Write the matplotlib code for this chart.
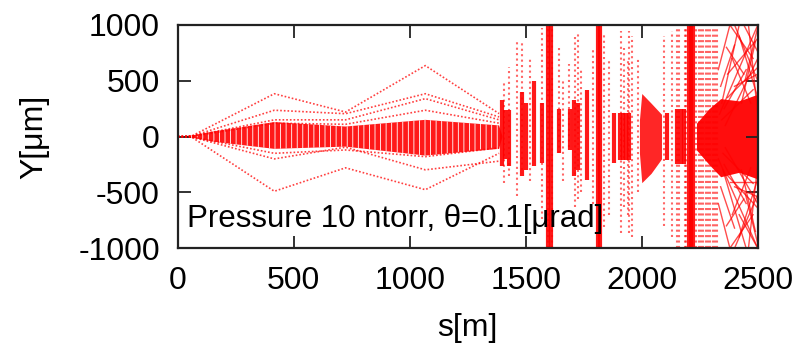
import matplotlib
matplotlib.use('Agg')
import matplotlib.pyplot as plt

plt.rcParams.update({
    'font.family': ['Liberation Sans', 'DejaVu Sans'],
    'font.size': 23,
    'axes.unicode_minus': False,
    'hatch.color': 'white',
    'hatch.linewidth': 0.6,
})

RED = '#ff0000'
INK = '#222222'

# ---- section 1 (s < 1400): drift rays read at lattice nodes ----
ray_s = [0, 60, 416, 723, 1067, 1385]
rays = [
    [0, 5, 384, 220, 636, 206],
    [0, 4, 236, 205, 384, 176],
    [0, 3, 150, 150, 340, 150],
    [0, 2, 120, 110, 236, 120],
    [0, -3, -150, -120, -180, -100],
    [0, -4, -200, -95, -298, -220],
    [0, -5, -490, -280, -476, -150],
]

# dense core envelope
core_s = [0, 60, 150, 416, 723, 1067, 1385, 1400]
core_hi = [0, 10, 45, 130, 90, 150, 100, 0]
core_lo = [0, -10, -45, -110, -90, -170, -110, 0]

# ---- section 2: vertical strips (s, low, high) ----
dense_s = [1398, 1410, 1429, 1485, 1500, 1536, 1571, 1597, 1608, 1644,
           1690, 1710, 1726, 1765, 1812, 1822, 1880, 1905, 1918, 1930,
           1945, 2108, 2150, 2168, 2184, 2204, 2212, 2222]
dense_lo = [-268, -200, -268, -357, -300, -268, -236, -1000, -1000, -150,
            -120, -357, -300, -387, -1000, -1000, -236, -209, -209, -209,
            -209, -209, -250, -250, -250, -1000, -1000, -1000]
dense_hi = [324, 240, 236, 398, 300, 502, 298, 1000, 1000, 250,
            250, 324, 300, 413, 1000, 1000, 207, 207, 207, 207,
            207, 207, 250, 250, 250, 1000, 1000, 1000]

sparse_s = [1405, 1429, 1463, 1485, 1520, 1571, 1597, 1614, 1644, 1660,
            1687, 1713, 1726, 1740, 1790, 1816, 1837, 1860, 1923, 1940,
            1910, 1945, 1960, 1985, 2095, 2130, 2150, 2160, 2185, 2192,
            2235, 2245, 2255, 2265, 2275, 2285, 2295, 2305, 2315, 2325]
sparse_lo = [-420, -357, -535, -300, -400, -742, -1000, -1000, -147, -400,
             -93, -627, -560, -500, -600, -1000, -810, -700, -627, -700,
             -860, -860, -900, -500, -800, -900, -1000, -1000, -1000, -1000,
             -1000, -1000, -1000, -1000, -1000, -1000, -1000, -1000, -1000,
             -1000]
sparse_hi = [500, 620, 858, 858, 700, 976, 1000, 1000, 798, 500,
             653, 920, 920, 600, 800, 1000, 920, 700, 798, 700,
             947, 947, 900, 700, 900, 950, 1000, 1000, 1000, 1000,
             1000, 1000, 1000, 1000, 1000, 1000, 1000, 1000, 1000, 1000]

# fuzzy blob near 2000 m and the dense end core
blob_s = [1990, 2000, 2040, 2085]
blob_hi = [150, 386, 300, 200]
blob_lo = [-150, -413, -330, -200]
end_s = [2236, 2290, 2340, 2420, 2500]
end_hi = [120, 250, 340, 320, 380]
end_lo = [-120, -250, -360, -320, -380]

# crossing tracks in the last cells (s0, y0, s1, y1)
mesh = [
    (2335, 200, 2500, 1000), (2345, 300, 2420, 1000), (2360, 100, 2500, 700),
    (2370, 560, 2500, 880), (2400, 1000, 2500, 500), (2440, 1000, 2500, 760),
    (2330, -200, 2500, -1000), (2350, -300, 2450, -1000),
    (2360, -100, 2500, -600), (2400, -1000, 2500, -520),
    (2380, -404, 2500, -404), (2420, -700, 2500, -1000),
    (2345, 150, 2480, 420), (2350, -150, 2480, -420),
    (2390, 700, 2470, 300), (2390, -700, 2470, -280),
    (2460, 1000, 2500, 200), (2460, -1000, 2500, -250),
    (2340, 450, 2400, 820), (2340, -450, 2400, -820),
    (2355, 250, 2450, 600), (2355, -250, 2450, -600),
    (2370, 350, 2500, 620), (2370, -350, 2500, -640),
    (2420, 900, 2500, 350), (2420, -900, 2500, -380),
    (2330, 600, 2380, 1000), (2330, -600, 2380, -1000),
    (2445, 500, 2500, 980), (2445, -500, 2500, -960),
    (2365, 800, 2440, 560), (2365, -800, 2440, -560),
    (2400, 450, 2500, 560), (2400, -450, 2500, -540),
    (2430, 300, 2490, 850), (2430, -300, 2490, -850),
    (2380, 1000, 2480, 700), (2380, -1000, 2480, -700),
]

fig = plt.figure(figsize=(8.01, 3.52), dpi=100)
ax = fig.add_axes([0.222, 0.295, 0.724, 0.634])

ax.fill_between(core_s, core_lo, core_hi, facecolor=(1, 0, 0, 0.9),
                edgecolor='white', hatch='|||', lw=0)
for r in rays:
    ax.plot(ray_s, r, color=RED, lw=1.2, alpha=0.75, ls=(0, (1, 1.2)))

ax.vlines(sparse_s, sparse_lo, sparse_hi, color=RED, lw=1.5, alpha=0.6,
          linestyles=[(0, (1, 1.6))])
ax.vlines(dense_s, dense_lo, dense_hi, color=RED, lw=3.0, alpha=0.9)
ax.fill_between(blob_s, blob_lo, blob_hi, color=RED, alpha=0.85, lw=0)
ax.fill_between(end_s, end_lo, end_hi, color=RED, alpha=0.95, lw=0)
for s0, y0, s1, y1 in mesh:
    ax.plot([s0, s1], [y0, y1], color=RED, lw=1.0, alpha=0.7)

ax.text(40, -740, 'Pressure 10 ntorr, θ=0.1[μrad]', fontsize=22.5,
        ha='left', va='center', color='black')

ax.set_xlim(0, 2500)
ax.set_ylim(-1000, 1000)
ax.set_xticks([0, 500, 1000, 1500, 2000, 2500])
ax.set_yticks([-1000, -500, 0, 500, 1000])
ax.tick_params(direction='in', top=True, right=True, length=9, width=1.3,
               color=INK, labelsize=23)
ax.tick_params(axis='x', pad=13)
ax.tick_params(axis='y', pad=13)
for sp in ax.spines.values():
    sp.set_linewidth(1.6)
    sp.set_color(INK)
ax.set_xlabel('s[m]', fontsize=23)
ax.set_ylabel('Y[μm]', fontsize=23)
ax.xaxis.set_label_coords(0.5, -0.29)
ax.yaxis.set_label_coords(-0.222, 0.5)

fig.savefig('out.png', dpi=100)
